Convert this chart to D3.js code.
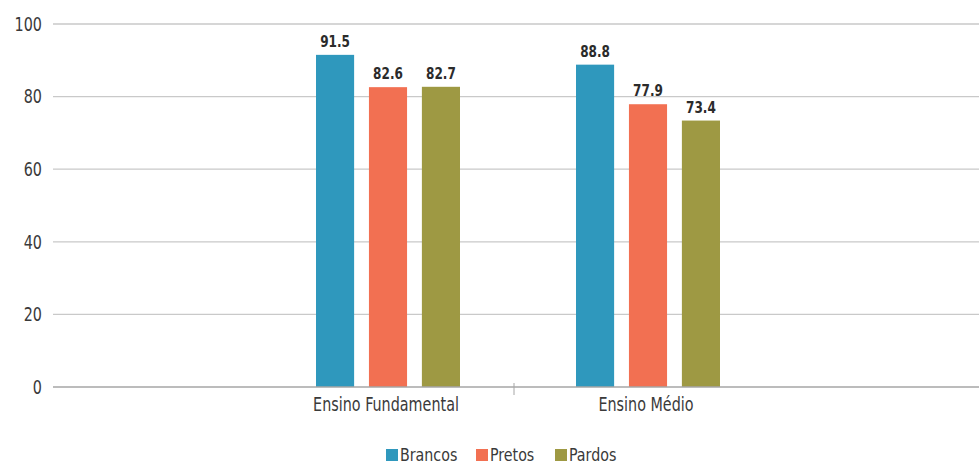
<!DOCTYPE html>
<html>
<head>
<meta charset="utf-8">
<script src="https://cdn.jsdelivr.net/npm/d3@7"></script>
<style>
  html, body { margin: 0; padding: 0; background: #fff; }
  svg { display: block; }
  text { font-family: "DejaVu Sans Condensed", "Roboto", sans-serif; }
</style>
</head>
<body>
<svg id="chart" width="979" height="464"></svg>
<script>
// Categories, series and values
const categories = ["Ensino Fundamental", "Ensino Médio"];
const seriesNames = ["Brancos", "Pretos", "Pardos"];
const brancos = [91.5, 88.8];
const pretos = [82.6, 77.9];
const pardos = [82.7, 73.4];
const yTicks = [0, 20, 40, 60, 80, 100];
const colors = ["#2f98bd", "#f27052", "#9e9943"];

const seriesValues = [brancos, pretos, pardos];

const svg = d3.select("#chart");
const gridLeft = 53, gridRight = 979;
const plotTop = 24, plotBottom = 387;
const narrow = 0.84; // horizontal squeeze for a condensed look

const y = d3.scaleLinear().domain([0, 100]).range([plotBottom, plotTop]);
const x0 = d3.scaleBand().domain(categories).range([258, 778]).paddingInner(0).paddingOuter(0);
const x1 = d3.scaleBand().domain(seriesNames).range([0, 144]).paddingInner(0.28).paddingOuter(0);

const place = (x, yy, s = narrow) => `translate(${x},${yy}) scale(${s},1)`;

// Horizontal gridlines
svg.append("g").selectAll("line")
  .data(yTicks.filter(d => d !== 0))
  .join("line")
  .attr("x1", gridLeft).attr("x2", gridRight)
  .attr("y1", d => y(d)).attr("y2", d => y(d))
  .attr("stroke", "#c9c9c9").attr("stroke-width", 1.3);

// Y tick labels
svg.append("g").selectAll("text")
  .data(yTicks)
  .join("text")
  .attr("transform", d => place(42, y(d)))
  .attr("dy", "0.36em")
  .attr("text-anchor", "end")
  .attr("font-size", 19)
  .attr("fill", "#3a3a3a")
  .text(d => d);

// Bars
const groups = svg.append("g").selectAll("g")
  .data(categories)
  .join("g")
  .attr("transform", d => `translate(${x0(d) + x0.bandwidth() / 2 - 72},0)`);

groups.each(function(cat, ci) {
  const g = d3.select(this);
  seriesNames.forEach((s, si) => {
    const v = seriesValues[si][ci];
    g.append("rect")
      .attr("x", x1(s)).attr("width", x1.bandwidth())
      .attr("y", y(v)).attr("height", y(0) - y(v))
      .attr("fill", colors[si]);
    g.append("text")
      .attr("transform", place(x1(s) + x1.bandwidth() / 2, y(v) - 8))
      .attr("text-anchor", "middle")
      .attr("font-size", 16)
      .attr("font-weight", "bold")
      .attr("fill", "#2b2b2b")
      .text(v.toFixed(1));
  });
});

// Baseline and category separator
svg.append("line")
  .attr("x1", gridLeft).attr("x2", gridRight)
  .attr("y1", y(0)).attr("y2", y(0))
  .attr("stroke", "#a6a6a6").attr("stroke-width", 1.3);
const sepX = (x0(categories[0]) + x0.bandwidth() + x0(categories[1])) / 2 - 4;
svg.append("line")
  .attr("x1", sepX).attr("x2", sepX)
  .attr("y1", y(0) - 4).attr("y2", y(0) + 8)
  .attr("stroke", "#a6a6a6").attr("stroke-width", 1);

// Category labels
svg.append("g").selectAll("text")
  .data(categories)
  .join("text")
  .attr("transform", d => place(x0(d) + x0.bandwidth() / 2 - 2, 411))
  .attr("text-anchor", "middle")
  .attr("font-size", 19)
  .attr("fill", "#3a3a3a")
  .text(d => d);

// Legend
const legendX = [386, 476, 555];
const legend = svg.append("g").selectAll("g")
  .data(seriesNames)
  .join("g")
  .attr("transform", (d, i) => `translate(${legendX[i]},448)`);
legend.append("rect")
  .attr("y", 1)
  .attr("width", 12).attr("height", 12)
  .attr("fill", (d, i) => colors[i]);
legend.append("text")
  .attr("transform", place(14, 13, 0.88))
  .attr("font-size", 18)
  .attr("fill", "#3a3a3a")
  .text(d => d);
</script>
</body>
</html>
